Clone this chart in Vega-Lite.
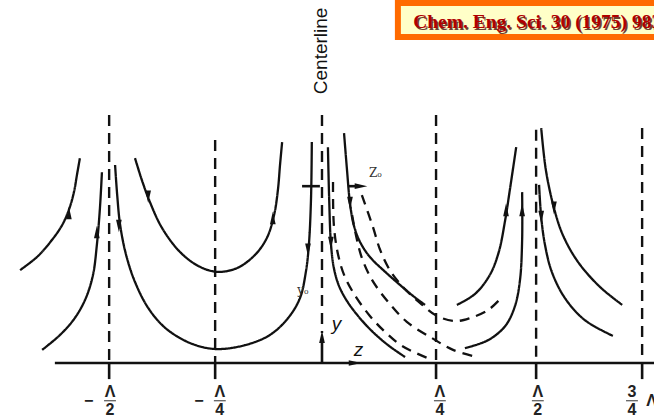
{
"$schema":"https://vega.github.io/schema/vega-lite/v6.json",
"width":654,"height":419,"padding":0,"autosize":{"type":"none"},
"background":"white",
"config":{"view":{"stroke":null}},
"datasets":{
"curves":[
{"c":"A","s":"original","i":0,"z":-0.712,"y":0.219},{"c":"A","s":"original","i":1,"z":-0.670,"y":0.252},{"c":"A","s":"original","i":2,"z":-0.637,"y":0.290},{"c":"A","s":"original","i":3,"z":-0.613,"y":0.325},{"c":"A","s":"original","i":4,"z":-0.597,"y":0.361},{"c":"A","s":"original","i":5,"z":-0.585,"y":0.403},{"c":"A","s":"original","i":6,"z":-0.578,"y":0.443},{"c":"A","s":"original","i":7,"z":-0.571,"y":0.483},
{"c":"B","s":"original","i":0,"z":-0.660,"y":0.031},{"c":"B","s":"original","i":1,"z":-0.618,"y":0.066},{"c":"B","s":"original","i":2,"z":-0.583,"y":0.106},{"c":"B","s":"original","i":3,"z":-0.557,"y":0.153},{"c":"B","s":"original","i":4,"z":-0.540,"y":0.208},{"c":"B","s":"original","i":5,"z":-0.531,"y":0.278},{"c":"B","s":"original","i":6,"z":-0.524,"y":0.361},{"c":"B","s":"original","i":7,"z":-0.519,"y":0.450},
{"c":"C","s":"original","i":0,"z":-0.488,"y":0.467},{"c":"C","s":"original","i":1,"z":-0.483,"y":0.396},{"c":"C","s":"original","i":2,"z":-0.476,"y":0.325},{"c":"C","s":"original","i":3,"z":-0.462,"y":0.255},{"c":"C","s":"original","i":4,"z":-0.441,"y":0.191},{"c":"C","s":"original","i":5,"z":-0.410,"y":0.130},{"c":"C","s":"original","i":6,"z":-0.370,"y":0.083},{"c":"C","s":"original","i":7,"z":-0.311,"y":0.047},{"c":"C","s":"original","i":8,"z":-0.252,"y":0.033},{"c":"C","s":"original","i":9,"z":-0.182,"y":0.042},{"c":"C","s":"original","i":10,"z":-0.123,"y":0.066},{"c":"C","s":"original","i":11,"z":-0.080,"y":0.106},{"c":"C","s":"original","i":12,"z":-0.052,"y":0.153},{"c":"C","s":"original","i":13,"z":-0.038,"y":0.215},{"c":"C","s":"original","i":14,"z":-0.031,"y":0.278},{"c":"C","s":"original","i":15,"z":-0.026,"y":0.384},{"c":"C","s":"original","i":16,"z":-0.024,"y":0.521},
{"c":"D","s":"original","i":0,"z":-0.441,"y":0.483},{"c":"D","s":"original","i":1,"z":-0.425,"y":0.432},{"c":"D","s":"original","i":2,"z":-0.406,"y":0.380},{"c":"D","s":"original","i":3,"z":-0.377,"y":0.318},{"c":"D","s":"original","i":4,"z":-0.335,"y":0.262},{"c":"D","s":"original","i":5,"z":-0.292,"y":0.229},{"c":"D","s":"original","i":6,"z":-0.248,"y":0.215},{"c":"D","s":"original","i":7,"z":-0.200,"y":0.224},{"c":"D","s":"original","i":8,"z":-0.158,"y":0.255},{"c":"D","s":"original","i":9,"z":-0.130,"y":0.295},{"c":"D","s":"original","i":10,"z":-0.113,"y":0.349},{"c":"D","s":"original","i":11,"z":-0.104,"y":0.408},{"c":"D","s":"original","i":12,"z":-0.099,"y":0.467},{"c":"D","s":"original","i":13,"z":-0.094,"y":0.521},
{"c":"F","s":"original","i":0,"z":0.014,"y":0.509},{"c":"F","s":"original","i":1,"z":0.017,"y":0.384},{"c":"F","s":"original","i":2,"z":0.021,"y":0.283},{"c":"F","s":"original","i":3,"z":0.028,"y":0.224},{"c":"F","s":"original","i":4,"z":0.040,"y":0.182},{"c":"F","s":"original","i":5,"z":0.059,"y":0.146},{"c":"F","s":"original","i":6,"z":0.085,"y":0.111},{"c":"F","s":"original","i":7,"z":0.118,"y":0.075},{"c":"F","s":"original","i":8,"z":0.156,"y":0.042},{"c":"F","s":"original","i":9,"z":0.196,"y":0.014},
{"c":"G","s":"original","i":0,"z":0.052,"y":0.542},{"c":"G","s":"original","i":1,"z":0.059,"y":0.455},{"c":"G","s":"original","i":2,"z":0.066,"y":0.377},{"c":"G","s":"original","i":3,"z":0.075,"y":0.325},{"c":"G","s":"original","i":4,"z":0.090,"y":0.285},{"c":"G","s":"original","i":5,"z":0.113,"y":0.250},{"c":"G","s":"original","i":6,"z":0.149,"y":0.215},{"c":"G","s":"original","i":7,"z":0.184,"y":0.184},{"c":"G","s":"original","i":8,"z":0.215,"y":0.158},{"c":"G","s":"original","i":9,"z":0.243,"y":0.137},
{"c":"F2","s":"shifted","i":0,"z":0.026,"y":0.427},{"c":"F2","s":"shifted","i":1,"z":0.028,"y":0.325},{"c":"F2","s":"shifted","i":2,"z":0.038,"y":0.255},{"c":"F2","s":"shifted","i":3,"z":0.054,"y":0.203},{"c":"F2","s":"shifted","i":4,"z":0.080,"y":0.156},{"c":"F2","s":"shifted","i":5,"z":0.113,"y":0.111},{"c":"F2","s":"shifted","i":6,"z":0.149,"y":0.073},{"c":"F2","s":"shifted","i":7,"z":0.189,"y":0.040},{"c":"F2","s":"shifted","i":8,"z":0.248,"y":0.012},
{"c":"D3","s":"shifted","i":0,"z":0.071,"y":0.349},{"c":"D3","s":"shifted","i":1,"z":0.080,"y":0.302},{"c":"D3","s":"shifted","i":2,"z":0.094,"y":0.248},{"c":"D3","s":"shifted","i":3,"z":0.118,"y":0.196},{"c":"D3","s":"shifted","i":4,"z":0.156,"y":0.144},{"c":"D3","s":"shifted","i":5,"z":0.200,"y":0.097},{"c":"D3","s":"shifted","i":6,"z":0.259,"y":0.059},{"c":"D3","s":"shifted","i":7,"z":0.309,"y":0.031},{"c":"D3","s":"shifted","i":8,"z":0.366,"y":0.014},
{"c":"G2","s":"shifted","i":0,"z":0.094,"y":0.396},{"c":"G2","s":"shifted","i":1,"z":0.120,"y":0.321},{"c":"G2","s":"shifted","i":2,"z":0.137,"y":0.267},{"c":"G2","s":"shifted","i":3,"z":0.160,"y":0.219},{"c":"G2","s":"shifted","i":4,"z":0.191,"y":0.179},{"c":"G2","s":"shifted","i":5,"z":0.231,"y":0.142},{"c":"G2","s":"shifted","i":6,"z":0.271,"y":0.111},{"c":"G2","s":"shifted","i":7,"z":0.314,"y":0.099},{"c":"G2","s":"shifted","i":8,"z":0.349,"y":0.106},{"c":"G2","s":"shifted","i":9,"z":0.392,"y":0.125},{"c":"G2","s":"shifted","i":10,"z":0.425,"y":0.156},
{"c":"I","s":"original","i":0,"z":0.318,"y":0.137},{"c":"I","s":"original","i":1,"z":0.361,"y":0.163},{"c":"I","s":"original","i":2,"z":0.396,"y":0.208},{"c":"I","s":"original","i":3,"z":0.417,"y":0.262},{"c":"I","s":"original","i":4,"z":0.432,"y":0.337},{"c":"I","s":"original","i":5,"z":0.443,"y":0.408},{"c":"I","s":"original","i":6,"z":0.458,"y":0.509},
{"c":"J","s":"original","i":0,"z":0.337,"y":0.035},{"c":"J","s":"original","i":1,"z":0.392,"y":0.054},{"c":"J","s":"original","i":2,"z":0.432,"y":0.087},{"c":"J","s":"original","i":3,"z":0.455,"y":0.134},{"c":"J","s":"original","i":4,"z":0.467,"y":0.196},{"c":"J","s":"original","i":5,"z":0.472,"y":0.290},{"c":"J","s":"original","i":6,"z":0.472,"y":0.403},
{"c":"K","s":"original","i":0,"z":0.517,"y":0.554},{"c":"K","s":"original","i":1,"z":0.528,"y":0.455},{"c":"K","s":"original","i":2,"z":0.547,"y":0.366},{"c":"K","s":"original","i":3,"z":0.568,"y":0.302},{"c":"K","s":"original","i":4,"z":0.604,"y":0.238},{"c":"K","s":"original","i":5,"z":0.656,"y":0.179},{"c":"K","s":"original","i":6,"z":0.708,"y":0.137},
{"c":"L","s":"original","i":0,"z":0.512,"y":0.420},{"c":"L","s":"original","i":1,"z":0.517,"y":0.344},{"c":"L","s":"original","i":2,"z":0.526,"y":0.278},{"c":"L","s":"original","i":3,"z":0.542,"y":0.215},{"c":"L","s":"original","i":4,"z":0.573,"y":0.153},{"c":"L","s":"original","i":5,"z":0.620,"y":0.101},{"c":"L","s":"original","i":6,"z":0.686,"y":0.064}
],
"guides":[{"z":-0.502,"y":0.585,"y2":0},{"z":-0.252,"y":0.526,"y2":0},{"z":0,"y":0.585,"y2":0.071},{"z":0.269,"y":0.585,"y2":0},{"z":0.505,"y":0.550,"y2":0},{"z":0.755,"y":0.554,"y2":0}],
"segs":[{"z":-0.630,"z2":0.80,"y":0,"y2":0},{"z":0,"z2":0,"y":0,"y2":0.055},{"z":-0.502,"z2":-0.502,"y":0,"y2":-0.038},{"z":-0.252,"z2":-0.252,"y":0,"y2":-0.038},{"z":0.269,"z2":0.269,"y":0,"y2":-0.038},{"z":0.505,"z2":0.505,"y":0,"y2":-0.038},{"z":0.755,"z2":0.755,"y":0,"y2":-0.038},{"z":-0.047,"z2":-0.005,"y":0.417,"y2":0.417},{"z":0.061,"z2":0.088,"y":0.417,"y2":0.417}],
"bars":[{"z":-0.514,"z2":-0.486,"y":-0.089,"y2":-0.089},{"z":-0.255,"z2":-0.227,"y":-0.089,"y2":-0.089},{"z":0.264,"z2":0.292,"y":-0.089,"y2":-0.089},{"z":0.495,"z2":0.523,"y":-0.089,"y2":-0.089},{"z":0.717,"z2":0.745,"y":-0.089,"y2":-0.089}],
"heads":[{"z":-0.597,"y":0.354,"d":"up"},{"z":-0.531,"y":0.309,"d":"up"},{"z":-0.116,"y":0.342,"d":"up"},{"z":0.434,"y":0.361,"d":"up"},{"z":0.472,"y":0.361,"d":"up"},{"z":0,"y":0.062,"d":"up"},
{"z":-0.479,"y":0.323,"d":"down"},{"z":-0.410,"y":0.392,"d":"down"},{"z":-0.033,"y":0.267,"d":"down"},{"z":0.021,"y":0.283,"d":"down"},{"z":0.066,"y":0.377,"d":"down"},{"z":0.547,"y":0.366,"d":"down"},{"z":0.517,"y":0.344,"d":"down"},
{"z":0.078,"y":0,"d":"right"},{"z":0.092,"y":0.417,"d":"right"}],
"ticklabels":[{"z":-0.500,"y":-0.068,"t":"Λ"},{"z":-0.241,"y":-0.068,"t":"Λ"},{"z":0.278,"y":-0.068,"t":"Λ"},{"z":0.509,"y":-0.068,"t":"Λ"},{"z":-0.500,"y":-0.111,"t":"2"},{"z":-0.241,"y":-0.111,"t":"4"},{"z":0.278,"y":-0.111,"t":"4"},{"z":0.509,"y":-0.111,"t":"2"},{"z":0.731,"y":-0.068,"t":"3"},{"z":0.731,"y":-0.111,"t":"4"},{"z":0.777,"y":-0.089,"t":"Λ"},{"z":-0.550,"y":-0.089,"t":"−"},{"z":-0.290,"y":-0.089,"t":"−"}],
"vars":[{"z":0.086,"y":0.030,"t":"z"},{"z":0.034,"y":0.092,"t":"y"}],
"small":[{"z":0.126,"y":0.448,"t":"Zₒ"},{"z":-0.045,"y":0.172,"t":"yₒ"}],
"box":[{"z":0.179,"z2":0.83,"y":0.769,"y2":0.849}],
"ref":[{"z":0.215,"y":0.790,"t":"Chem. Eng. Sci. 30 (1975) 983"}],
"cl":[{"z":-0.002,"y":0.736,"t":"Centerline"}]
},
"layer":[
{"data":{"name":"box"},"mark":{"type":"rect","fill":"#ffffc8","stroke":"#ff6a00","strokeWidth":6},
 "encoding":{"x":{"field":"z","type":"quantitative","scale":{"domain":[-0.7594,0.783],"nice":false,"zero":false},"axis":null},"x2":{"field":"z2"},"y":{"field":"y","type":"quantitative","scale":{"domain":[-0.1321,0.8561],"nice":false,"zero":false},"axis":null},"y2":{"field":"y2"}}},
{"data":{"name":"ref"},"mark":{"type":"text","font":"Liberation Serif","fontWeight":"bold","fontSize":19.5,"align":"left","baseline":"alphabetic","fill":"#3a0000","dx":1.5,"dy":1.5,"opacity":0.75},
 "encoding":{"x":{"field":"z","type":"quantitative"},"y":{"field":"y","type":"quantitative"},"text":{"field":"t"}}},
{"data":{"name":"ref"},"mark":{"type":"text","font":"Liberation Serif","fontWeight":"bold","fontSize":19.5,"align":"left","baseline":"alphabetic","fill":"#b00000"},
 "encoding":{"x":{"field":"z","type":"quantitative"},"y":{"field":"y","type":"quantitative"},"text":{"field":"t"}}},
{"data":{"name":"cl"},"mark":{"type":"text","font":"Liberation Sans","fontSize":19,"angle":270,"align":"center","baseline":"middle","fill":"#111"},
 "encoding":{"x":{"field":"z","type":"quantitative"},"y":{"field":"y","type":"quantitative"},"text":{"field":"t"}}},
{"data":{"name":"guides"},"mark":{"type":"rule","stroke":"#111","strokeWidth":2.4,"strokeDash":[11,7]},
 "encoding":{"x":{"field":"z","type":"quantitative"},"y":{"field":"y","type":"quantitative"},"y2":{"field":"y2"}}},
{"data":{"name":"segs"},"mark":{"type":"rule","stroke":"#111","strokeWidth":2.6},
 "encoding":{"x":{"field":"z","type":"quantitative"},"x2":{"field":"z2"},"y":{"field":"y","type":"quantitative"},"y2":{"field":"y2"}}},
{"data":{"name":"bars"},"mark":{"type":"rule","stroke":"#555","strokeWidth":1.2},
 "encoding":{"x":{"field":"z","type":"quantitative"},"x2":{"field":"z2"},"y":{"field":"y","type":"quantitative"},"y2":{"field":"y2"}}},
{"data":{"name":"curves"},"mark":{"type":"line","interpolate":"catmull-rom","stroke":"#111","strokeWidth":2.3},
 "encoding":{"x":{"field":"z","type":"quantitative"},"y":{"field":"y","type":"quantitative"},"detail":{"field":"c"},"order":{"field":"i","type":"quantitative"},
 "strokeDash":{"field":"s","type":"nominal","scale":{"domain":["original","shifted"],"range":[[1,0],[10,7]]},"legend":null}}},
{"data":{"name":"heads"},"transform":[{"filter":"datum.d=='up'"}],"mark":{"type":"point","shape":"M0,-1L0.45,1L-0.45,1Z","filled":true,"fill":"#111","opacity":1,"size":160,"strokeWidth":0},
 "encoding":{"x":{"field":"z","type":"quantitative"},"y":{"field":"y","type":"quantitative"}}},
{"data":{"name":"heads"},"transform":[{"filter":"datum.d=='down'"}],"mark":{"type":"point","shape":"M0,1L0.45,-1L-0.45,-1Z","filled":true,"fill":"#111","opacity":1,"size":160,"strokeWidth":0},
 "encoding":{"x":{"field":"z","type":"quantitative"},"y":{"field":"y","type":"quantitative"}}},
{"data":{"name":"heads"},"transform":[{"filter":"datum.d=='right'"}],"mark":{"type":"point","shape":"M1,0L-1,0.45L-1,-0.45Z","filled":true,"fill":"#111","opacity":1,"size":160,"strokeWidth":0},
 "encoding":{"x":{"field":"z","type":"quantitative"},"y":{"field":"y","type":"quantitative"}}},
{"data":{"name":"ticklabels"},"mark":{"type":"text","font":"Liberation Sans","fontWeight":"bold","fontSize":16,"align":"center","baseline":"middle","fill":"#222"},
 "encoding":{"x":{"field":"z","type":"quantitative"},"y":{"field":"y","type":"quantitative"},"text":{"field":"t"}}},
{"data":{"name":"vars"},"mark":{"type":"text","font":"Liberation Sans","fontStyle":"italic","fontSize":19,"align":"center","baseline":"middle","fill":"#111"},
 "encoding":{"x":{"field":"z","type":"quantitative"},"y":{"field":"y","type":"quantitative"},"text":{"field":"t"}}},
{"data":{"name":"small"},"mark":{"type":"text","font":"DejaVu Serif","fontSize":12,"align":"center","baseline":"middle","fill":"#333"},
 "encoding":{"x":{"field":"z","type":"quantitative"},"y":{"field":"y","type":"quantitative"},"text":{"field":"t"}}}
]
}
